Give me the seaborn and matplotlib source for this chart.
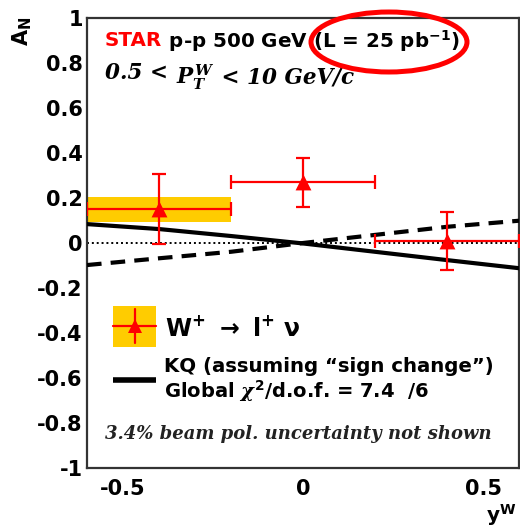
import numpy as np
import pandas as pd
import matplotlib
matplotlib.use("Agg")
import matplotlib.pyplot as plt
from matplotlib.patches import Ellipse, Rectangle
from matplotlib.lines import Line2D
from matplotlib.ticker import MultipleLocator
import seaborn as sns

# W+ -> l+ nu single-spin asymmetry, STAR p-p 500 GeV
yw = [-0.4, 0.0, 0.4]
an = [0.15, 0.27, 0.01]
an_stat = [0.155, 0.11, 0.13]
yw_halfwidth = [0.2, 0.2, 0.2]
an_sys = [0.055, 0.0, 0.0]

# KQ prediction, with and without the sign change
theory_y = [-0.6, -0.4, -0.2, 0.0, 0.2, 0.4, 0.6]
kq_sign_change = [0.084, 0.062, 0.031, -0.002, -0.039, -0.076, -0.112]
kq_no_sign_change = [-0.098, -0.068, -0.039, 0.0, 0.036, 0.072, 0.099]

sns.set_style("white")
plt.rcParams["font.family"] = ["DejaVu Sans"]
plt.rcParams["text.color"] = "black"
plt.rcParams["xtick.labelcolor"] = "black"
plt.rcParams["ytick.labelcolor"] = "black"
plt.rcParams["mathtext.fontset"] = "custom"
plt.rcParams["mathtext.rm"] = "DejaVu Sans:bold"
plt.rcParams["mathtext.bf"] = "DejaVu Sans:bold"
plt.rcParams["mathtext.sf"] = "DejaVu Sans:bold"
plt.rcParams["mathtext.it"] = "DejaVu Serif:italic:bold"

RED = "#ff0000"
YELLOW = "#ffcc00"

W, H = 520, 529
fig = plt.figure(figsize=(W / 100, H / 100), dpi=100)
ax = fig.add_axes([87 / W, (H - 468) / H, 432 / W, 450 / H])

theory = pd.DataFrame({"y": theory_y + theory_y,
                       "an": kq_sign_change + kq_no_sign_change,
                       "model": ["sign"] * len(theory_y) + ["nosign"] * len(theory_y)})

# zero reference line
ax.axhline(0, color="black", lw=1.4, ls=(0, (1.0, 1.5)), zorder=1)

# systematic bands
ax.bar(yw, [2 * s for s in an_sys], bottom=[a - s for a, s in zip(an, an_sys)],
       width=[2 * w for w in yw_halfwidth], color=YELLOW, lw=0, zorder=2)

sns.lineplot(data=theory[theory.model == "sign"], x="y", y="an", ax=ax,
             color="black", lw=3.0, zorder=3)
sns.lineplot(data=theory[theory.model == "nosign"], x="y", y="an", ax=ax,
             color="black", lw=3.0, ls=(0, (3.5, 2.2)), zorder=3)

ax.errorbar(yw, an, xerr=yw_halfwidth, yerr=an_stat, fmt="none", ecolor=RED,
            elinewidth=1.6, capsize=5, capthick=1.6, zorder=4)
sns.scatterplot(x=yw, y=an, ax=ax, marker="^", s=130, color=RED,
                edgecolor=RED, linewidth=0, zorder=5)

ax.set_xlim(-0.6, 0.6)
ax.set_ylim(-1, 1)
ax.set_xlabel("")
ax.set_ylabel("")
ax.xaxis.set_minor_locator(MultipleLocator(0.1))
ax.yaxis.set_minor_locator(MultipleLocator(0.05))
ax.set_xticks([-0.5, 0, 0.5])
ax.set_xticklabels(["-0.5", "0", "0.5"])
yt = np.round(np.arange(-1, 1.01, 0.2), 1)
ax.set_yticks(yt)
ax.set_yticklabels([f"{v:g}" if v != 0 else "0" for v in yt])
ax.tick_params(which="both", direction="in", top=False, right=False, width=1.4, color="#222222")
ax.tick_params(which="major", length=9.5)
ax.tick_params(which="minor", length=4.5)
ax.tick_params(axis="y", which="major", pad=3)
ax.tick_params(axis="x", which="major", pad=8)
for lab in ax.get_xticklabels() + ax.get_yticklabels():
    lab.set_fontweight("bold")
    lab.set_fontsize(15)
    lab.set_color("black")
for sp in ax.spines.values():
    sp.set_linewidth(1.6)
    sp.set_color("#333333")

# axis titles
fig.text(22 / W, 1 - 31 / H, r"$\mathrm{A_N}$", rotation=90, ha="center", va="center", fontsize=15)
fig.text(501 / W, 1 - 515 / H, r"$\mathrm{y^W}$", ha="center", va="center", fontsize=14.5)

# header
def ax_y(py):
    return (468 - py) / 450

def ax_x(px):
    return (px - 87) / 432

star = ax.text(ax_x(105), ax_y(41), "STAR", color=RED, fontweight="bold", fontsize=14.3,
               transform=ax.transAxes, va="center", ha="left")
ax.annotate(r" p-p 500 GeV (L = 25 pb$^{-1}$)", xy=(1, 0.5), xycoords=star,
            va="center", ha="left", fontweight="bold", fontsize=14.3)

serif_it = dict(family="DejaVu Serif", style="italic", fontweight="bold", fontsize=15.5)
pt_a = ax.text(ax_x(105), ax_y(79), "0.5 < ", transform=ax.transAxes,
               va="baseline", ha="left", **serif_it)
pt_b = ax.annotate(r"$P_T^W$", xy=(1, 0), xycoords=pt_a, va="baseline", ha="left",
                   fontsize=15.5)
ax.annotate(" < 10 GeV/c", xy=(1, 0), xycoords=pt_a, xytext=(pt_b.get_window_extent(fig.canvas.get_renderer()).width / fig.dpi * 72, 0),
            textcoords="offset points", va="baseline", ha="left", **serif_it)

fig.add_artist(Ellipse((389 / W, 1 - 42 / H), 156 / W, 60 / H, fill=False,
                       edgecolor=RED, lw=3.6, transform=fig.transFigure, clip_on=False))

# legend
ax.add_patch(Rectangle((ax_x(113), ax_y(347)), ax_x(156) - ax_x(113), ax_y(306) - ax_y(347),
                       transform=ax.transAxes, color=YELLOW, lw=0, zorder=6))
ax.add_line(Line2D([ax_x(113), ax_x(156)], [ax_y(326)] * 2, transform=ax.transAxes,
                   color=RED, lw=1.6, zorder=7))
ax.add_line(Line2D([ax_x(134.5)] * 2, [ax_y(343), ax_y(309)], transform=ax.transAxes,
                   color=RED, lw=1.6, zorder=7))
ax.add_line(Line2D([ax_x(134.5)], [ax_y(326)], transform=ax.transAxes, marker="^",
                   ms=10, color=RED, mew=0, zorder=8))
ax.text(ax_x(165), ax_y(328), r"$\mathrm{W^{+}}\ \rightarrow\ \mathrm{l^{+}}\ \mathrm{\nu}$", fontsize=17,
        transform=ax.transAxes, va="center", ha="left")

ax.add_line(Line2D([ax_x(113), ax_x(156)], [ax_y(380)] * 2, transform=ax.transAxes,
                   color="black", lw=4, zorder=7, solid_capstyle="butt"))
ax.text(ax_x(164), ax_y(367), "KQ (assuming \u201csign change\u201d)", fontsize=14.2,
        fontweight="bold", transform=ax.transAxes, va="center", ha="left")
ax.text(ax_x(164), ax_y(391), r"Global $\chi^{2}$/d.o.f. = 7.4  /6", fontsize=14,
        fontweight="bold", transform=ax.transAxes, va="center", ha="left")

ax.text(ax_x(105), ax_y(434), "3.4% beam pol. uncertainty not shown", fontsize=13,
        family="DejaVu Serif", style="italic", fontweight="bold", color="#222222",
        transform=ax.transAxes, va="center", ha="left")

fig.savefig("out.png", dpi=100)
